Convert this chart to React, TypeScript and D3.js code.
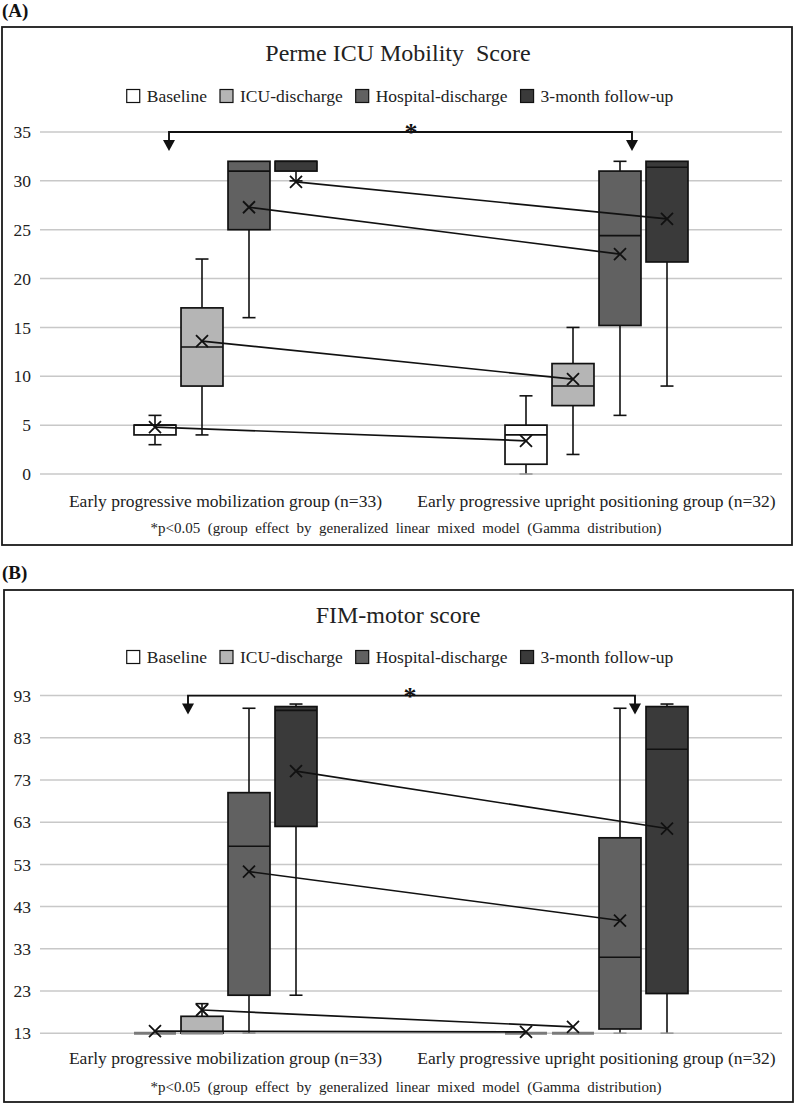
import React, { useEffect, useRef } from "react";
import * as d3 from "d3";

// ---------- DATA ----------
const categories = [
  "Early progressive mobilization group (n=33)",
  "Early progressive upright positioning group (n=32)",
];
const seriesNames = ["Baseline", "ICU-discharge", "Hospital-discharge", "3-month follow-up"];
const seriesColors = ["#ffffff", "#b5b5b5", "#616161", "#3a3a3a"];

// each entry: [min, q1, median, q3, max, mean] for each category
const permeBaseline = [[3, 4, 5, 5, 6, 4.8], [0, 1, 4, 5, 8, 3.4]];
const permeICU = [[4, 9, 13, 17, 22, 13.6], [2, 7, 9, 11.3, 15, 9.7]];
const permeHospital = [[16, 25, 31, 32, 32, 27.3], [6, 15.2, 24.4, 31, 32, 22.5]];
const permeFollowUp = [[30, 31, 32, 32, 32, 29.9], [9, 21.7, 31.4, 32, 32, 26.1]];
const permeTicks = [0, 5, 10, 15, 20, 25, 30, 35];

const fimBaseline = [[13, 13, 13, 13, 13, 13.5], [13, 13, 13, 13, 13, 13.3]];
const fimICU = [[13, 13, 13, 17, 20, 18.5], [13, 13, 13, 13, 13, 14.5]];
const fimHospital = [[13, 22, 57.3, 70, 90, 51.3], [13, 14, 31, 59.3, 90, 39.7]];
const fimFollowUp = [[22, 62, 89.5, 90.4, 91, 75.1], [13, 22.4, 80.3, 90.4, 91, 61.5]];
const fimTicks = [13, 23, 33, 43, 53, 63, 73, 83, 93];

const footnote = "*p<0.05  (group  effect  by  generalized  linear  mixed  model  (Gamma  distribution)";

// ---------- LAYOUT ----------
const W = 797;
const H = 1107;
const FONT = "'Liberation Serif', 'Times New Roman', serif";

const panels = [
  {
    tag: "(A)", tagY: 17,
    title: "Perme ICU Mobility  Score",
    series: [permeBaseline, permeICU, permeHospital, permeFollowUp],
    ticks: permeTicks,
    frame: { x: 2, y: 27, w: 790, h: 518 },
    titleY: 53, legendY: 96,
    plotTop: 132, plotBottom: 474,
    labelsY: 501, footY: 528,
    bracket: { left: 169, right: 632, star: 411 },
  },
  {
    tag: "(B)", tagY: 579,
    title: "FIM-motor score",
    series: [fimBaseline, fimICU, fimHospital, fimFollowUp],
    ticks: fimTicks,
    frame: { x: 4, y: 590, w: 789, h: 512 },
    titleY: 615, legendY: 657,
    plotTop: 695.6, plotBottom: 1033.2,
    labelsY: 1058, footY: 1087,
    bracket: { left: 188, right: 635, star: 410 },
  },
];

const plotLeft = 40;
const plotRight = 782;

export default function App() {
  const ref = useRef<SVGSVGElement | null>(null);

  useEffect(() => {
    const svg = d3.select(ref.current);
    svg.selectAll("*").remove();
    svg.append("rect").attr("width", W).attr("height", H).attr("fill", "#fff");

    const x = d3.scaleBand<string>().domain(categories).range([plotLeft, plotRight]);
    const xs = d3.scaleBand<string>().domain(seriesNames).range([-94, 94]).paddingInner(0.107).paddingOuter(0.0535);

    panels.forEach((p) => {
      const g = svg.append("g");
      const y = d3
        .scaleLinear()
        .domain([p.ticks[0], p.ticks[p.ticks.length - 1]])
        .range([p.plotBottom, p.plotTop]);
      const yMin = p.ticks[0];

      // tag
      g.append("text").attr("x", 2).attr("y", p.tagY).attr("font-family", FONT)
        .attr("font-weight", "bold").attr("font-size", 19).attr("fill", "#111").text(p.tag);

      // frame
      g.append("rect").attr("x", p.frame.x).attr("y", p.frame.y).attr("width", p.frame.w)
        .attr("height", p.frame.h).attr("fill", "none").attr("stroke", "#1a1a1a").attr("stroke-width", 1.8);

      // title
      g.append("text").attr("x", 398).attr("y", p.titleY).attr("dy", "0.35em")
        .attr("text-anchor", "middle").attr("font-family", FONT).attr("font-size", 24)
        .attr("fill", "#222").style("white-space", "pre").text(p.title);

      // legend
      const leg = g.append("g");
      let lx = 0;
      seriesNames.forEach((name, i) => {
        const it = leg.append("g").attr("transform", `translate(${lx},0)`);
        it.append("rect").attr("x", 0).attr("y", p.legendY - 6.5).attr("width", 13).attr("height", 13)
          .attr("fill", seriesColors[i]).attr("stroke", "#111").attr("stroke-width", 1.2);
        const t = it.append("text").attr("x", 20).attr("y", p.legendY).attr("dy", "0.35em")
          .attr("font-family", FONT).attr("font-size", 17.5).attr("fill", "#222").text(name);
        const tw = (t.node() as SVGTextElement).getComputedTextLength();
        lx += 20 + tw + 13;
      });
      const legW = lx - 13;
      leg.attr("transform", `translate(${400 - legW / 2},0)`);

      // gridlines + y ticks
      g.append("g").selectAll("line").data(p.ticks).join("line")
        .attr("x1", plotLeft).attr("x2", plotRight)
        .attr("y1", (d) => y(d)).attr("y2", (d) => y(d))
        .attr("stroke", "#c8c8c8").attr("stroke-width", 1.5);
      g.append("g").selectAll("text").data(p.ticks).join("text")
        .attr("x", 31).attr("y", (d) => y(d)).attr("dy", "0.35em").attr("text-anchor", "end")
        .attr("font-family", FONT).attr("font-size", 17.5).attr("fill", "#222").text((d) => String(d));

      // boxes
      const cx = (si: number, ci: number) =>
        (x(categories[ci]) as number) + x.bandwidth() / 2 + (xs(seriesNames[si]) as number) + xs.bandwidth() / 2;
      const bw = xs.bandwidth();

      p.series.forEach((ser, si) => {
        ser.forEach((v, ci) => {
          const [mn, q1, md, q3, mx] = v;
          const c = cx(si, ci);
          const bg = g.append("g");
          const cap = (val: number) => (val === yMin ? "#999" : "#111");
          if (mn < q1) {
            bg.append("line").attr("x1", c).attr("x2", c).attr("y1", y(q1)).attr("y2", y(mn))
              .attr("stroke", "#111").attr("stroke-width", 1.6);
            bg.append("line").attr("x1", c - 6.5).attr("x2", c + 6.5).attr("y1", y(mn)).attr("y2", y(mn))
              .attr("stroke", cap(mn)).attr("stroke-width", 1.6);
          }
          if (mx > q3) {
            bg.append("line").attr("x1", c).attr("x2", c).attr("y1", y(q3)).attr("y2", y(mx))
              .attr("stroke", "#111").attr("stroke-width", 1.6);
            bg.append("line").attr("x1", c - 6.5).attr("x2", c + 6.5).attr("y1", y(mx)).attr("y2", y(mx))
              .attr("stroke", "#111").attr("stroke-width", 1.6);
          }
          if (q3 > q1) {
            bg.append("rect").attr("x", c - bw / 2).attr("y", y(q3)).attr("width", bw)
              .attr("height", y(q1) - y(q3)).attr("fill", seriesColors[si])
              .attr("stroke", "#111").attr("stroke-width", 1.7);
            bg.append("line").attr("x1", c - bw / 2).attr("x2", c + bw / 2).attr("y1", y(md)).attr("y2", y(md))
              .attr("stroke", "#111").attr("stroke-width", 1.6);
            if (q1 === yMin) {
              bg.append("line").attr("x1", c - bw / 2).attr("x2", c + bw / 2).attr("y1", y(q1)).attr("y2", y(q1))
                .attr("stroke", "#888").attr("stroke-width", 2.5);
            }
          } else {
            bg.append("line").attr("x1", c - bw / 2).attr("x2", c + bw / 2).attr("y1", y(q1)).attr("y2", y(q1))
              .attr("stroke", "#7a7a7a").attr("stroke-width", 3);
          }
        });
      });

      // mean connection lines
      const lineGen = d3.line<[number, number]>().x((d) => d[0]).y((d) => d[1]);
      p.series.forEach((ser, si) => {
        const pts: [number, number][] = ser.map((v, ci) => [cx(si, ci), y(v[5])]);
        g.append("path").attr("d", lineGen(pts) as string).attr("fill", "none")
          .attr("stroke", "#111").attr("stroke-width", 1.7);
      });
      // mean markers
      p.series.forEach((ser, si) => {
        ser.forEach((v, ci) => {
          const c = cx(si, ci);
          const my = y(v[5]);
          const s = 6;
          g.append("path").attr("d", `M${c - s},${my - s}L${c + s},${my + s}M${c - s},${my + s}L${c + s},${my - s}`)
            .attr("stroke", "#111").attr("stroke-width", 1.8).attr("fill", "none");
        });
      });

      // significance bracket
      const by = p.plotTop;
      const b = p.bracket;
      g.append("path").attr("d", `M${b.left},${by + 9}V${by}H${b.right}V${by + 9}`)
        .attr("fill", "none").attr("stroke", "#111").attr("stroke-width", 1.9);
      [b.left, b.right].forEach((ax) => {
        g.append("path").attr("d", `M${ax - 6},${by + 8}L${ax + 6},${by + 8}L${ax},${by + 19}Z`).attr("fill", "#111");
      });
      g.append("text").attr("x", b.star).attr("y", by + 9).attr("text-anchor", "middle")
        .attr("font-family", FONT).attr("font-weight", "bold").attr("font-size", 26).attr("fill", "#111").text("*");

      // category labels
      g.append("g").selectAll("text").data(categories).join("text")
        .attr("x", (d) => (x(d) as number) + x.bandwidth() / 2).attr("y", p.labelsY).attr("dy", "0.35em")
        .attr("text-anchor", "middle").attr("font-family", FONT).attr("font-size", 17.5).attr("fill", "#222")
        .text((d) => d);

      // footnote
      g.append("text").attr("x", 406).attr("y", p.footY).attr("dy", "0.35em").attr("text-anchor", "middle")
        .attr("font-family", FONT).attr("font-size", 15).attr("fill", "#222").style("white-space", "pre")
        .text(footnote);
    });
  }, []);

  return <svg ref={ref} width={W} height={H} style={{ display: "block", position: "absolute", left: 0, top: 0 }} />;
}
